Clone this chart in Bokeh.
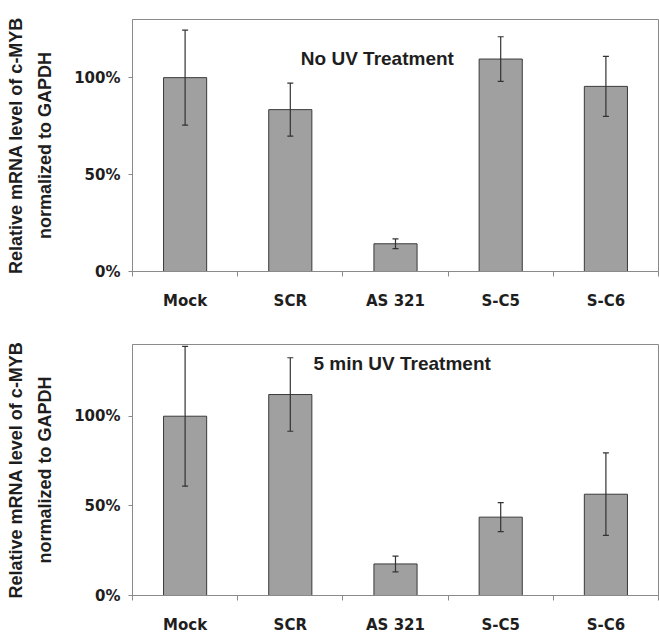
import math
from bokeh.plotting import figure
from bokeh.layouts import column
from bokeh.models import (ColumnDataSource, Whisker, TeeHead, Label, FixedTicker,
                          NumeralTickFormatter, Range1d)
from bokeh.embed import file_html
from bokeh.resources import INLINE

categories = ["Mock", "SCR", "AS 321", "S-C5", "S-C6"]
no_uv_values = [1.00, 0.835, 0.143, 1.096, 0.955]
no_uv_errors = [0.245, 0.137, 0.025, 0.115, 0.155]
uv5_values = [1.00, 1.121, 0.176, 0.437, 0.565]
uv5_errors = [0.39, 0.205, 0.044, 0.081, 0.23]
y_ticks = [0, 0.5, 1.0]
panel_titles = ["No UV Treatment", "5 min UV Treatment"]
y_title = "Relative mRNA level of c-MYB\nnormalized to GAPDH"

BAR_FILL = "#a0a0a0"
BAR_LINE = "#3a3a3a"
AXIS_COL = "#8a8a8a"
TEXT_COL = "#1e1e1e"


def make_panel(values, errors, ymax, title, tx, ty, height, top, bottom, left, standoff):
    n = len(categories)
    xs = [i + 0.5 for i in range(n)]
    src = ColumnDataSource(dict(
        x=xs, top=values,
        upper=[v + e for v, e in zip(values, errors)],
        lower=[v - e for v, e in zip(values, errors)],
    ))
    p = figure(width=659, height=height, output_backend="svg", toolbar_location=None,
               x_range=Range1d(0, n), y_range=Range1d(0, ymax),
               min_border_top=top, min_border_bottom=bottom,
               min_border_left=left, min_border_right=1)
    p.vbar(x="x", top="top", width=0.41, bottom=0, source=src,
           fill_color=BAR_FILL, line_color=BAR_LINE, line_width=1)
    w = Whisker(base="x", upper="upper", lower="lower", source=src, level="overlay",
                line_color="#333333", line_width=1.2,
                upper_head=TeeHead(size=6, line_color="#333333", line_width=1.2),
                lower_head=TeeHead(size=6, line_color="#333333", line_width=1.2))
    p.add_layout(w)

    p.grid.visible = False
    p.outline_line_color = AXIS_COL
    p.outline_line_width = 1
    p.background_fill_color = "white"
    p.border_fill_color = "white"

    # x axis
    xa = p.xaxis[0]
    xa.ticker = FixedTicker(ticks=xs, minor_ticks=list(range(n + 1)))
    xa.major_label_overrides = {x: c for x, c in zip(xs, categories)}
    xa.major_tick_out = 0
    xa.major_tick_in = 0
    xa.minor_tick_out = 5
    xa.minor_tick_in = 0
    xa.minor_tick_line_color = AXIS_COL
    xa.axis_line_color = AXIS_COL
    xa.major_label_text_font = "DejaVu Sans"
    xa.major_label_text_font_style = "bold"
    xa.major_label_text_font_size = "15px"
    xa.major_label_text_color = TEXT_COL
    xa.major_label_standoff = standoff

    # y axis
    ya = p.yaxis[0]
    ya.ticker = FixedTicker(ticks=y_ticks, minor_ticks=[])
    ya.formatter = NumeralTickFormatter(format="0%")
    ya.major_tick_out = 4
    ya.major_tick_in = 0
    ya.major_tick_line_color = AXIS_COL
    ya.axis_line_color = AXIS_COL
    ya.major_label_text_font = "DejaVu Sans"
    ya.major_label_text_font_style = "bold"
    ya.major_label_text_font_size = "15px"
    ya.major_label_text_color = TEXT_COL
    ya.major_label_standoff = 8
    ya.axis_label = y_title
    ya.axis_label_text_font = "Liberation Sans"
    ya.axis_label_text_font_style = "bold"
    ya.axis_label_text_font_size = "18px"
    ya.axis_label_text_color = TEXT_COL
    ya.axis_label_text_line_height = 1.45
    ya.axis_label_standoff = 16

    p.add_layout(Label(x=tx, y=ty, text=title, text_font="Liberation Sans",
                       text_font_style="bold", text_font_size="19px",
                       text_color=TEXT_COL, text_align="left", text_baseline="middle"))
    return p


p1 = make_panel(no_uv_values, no_uv_errors, 1.30, panel_titles[0], 1.6, 1.10,
                height=316, top=19, bottom=45, left=130, standoff=15)
p2 = make_panel(uv5_values, uv5_errors, 1.40, panel_titles[1], 1.72, 1.296,
                height=320, top=28, bottom=41, left=132, standoff=15)

layout = column(p1, p2, spacing=0)
open("out.html", "w").write(file_html(layout, INLINE))
